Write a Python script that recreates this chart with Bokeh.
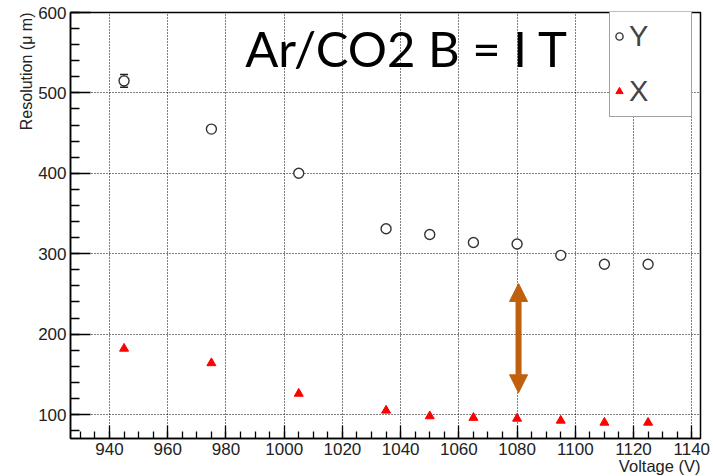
from bokeh.plotting import figure
from bokeh.models import (Range1d, SingleIntervalTicker, Label, Legend, LegendItem,
                          Whisker, ColumnDataSource, Arrow, NormalHead, Title)
from bokeh.embed import file_html
from bokeh.resources import INLINE

# ---- data ----
voltage = [945, 975, 1005, 1035, 1050, 1065, 1080, 1095, 1110, 1125]
res_y = [515, 455, 400, 331, 324, 314, 312, 298, 287, 287]
res_y_err = [8, 3, 3, 3, 3, 3, 3, 3, 3, 3]
res_x = [182, 164, 126, 105, 98, 96, 95, 92.5, 90, 90]
arrow_v = 1080.5
arrow_lo, arrow_hi = 127, 263
title_text = "Ar/CO2 B = I T"
x_label = "Voltage (V)"
y_label = "Resolution (\u03bc m)"

FONT = "Liberation Sans"

p = figure(width=713, height=476, output_backend="svg", toolbar_location=None,
           x_range=Range1d(926.6, 1143), y_range=Range1d(70.2, 600),
           min_border_left=70, min_border_right=13, min_border_top=12, min_border_bottom=38)
p.background_fill_color = "white"
p.border_fill_color = "white"
p.outline_line_color = "black"
p.outline_line_width = 1.5

# axes
p.xaxis.ticker = SingleIntervalTicker(interval=20, num_minor_ticks=4)
p.yaxis.ticker = SingleIntervalTicker(interval=100, num_minor_ticks=5)
for ax in (p.xaxis, p.yaxis):
    ax.axis_line_color = "black"
    ax.axis_line_width = 1.5
    ax.major_tick_line_color = "black"
    ax.minor_tick_line_color = "black"
    ax.major_tick_line_width = 1.3
    ax.minor_tick_line_width = 1.3
    ax.major_tick_out = 0
    ax.minor_tick_out = 0
    ax.major_label_text_font = FONT
    ax.major_label_text_font_size = "17px"
    ax.major_label_text_color = "#222222"
p.yaxis.major_tick_in = 20
p.yaxis.minor_tick_in = 9
p.xaxis.major_tick_in = 13
p.xaxis.minor_tick_in = 7
p.yaxis.major_label_standoff = 4
p.xaxis.major_label_standoff = 4

p.grid.grid_line_color = "black"
p.grid.grid_line_dash = "1 2"
p.grid.grid_line_width = 1

# axis labels as side titles (right-aligned like the reference)
p.add_layout(Title(text=y_label, align="right", text_font=FONT, text_font_size="16px",
                   text_font_style="normal", text_color="#222222", standoff=2), "left")
p.add_layout(Title(text=x_label, align="right", text_font=FONT, text_font_size="16.5px",
                   text_font_style="normal", text_color="#222222", standoff=-6), "below")

# data
src = ColumnDataSource(dict(v=voltage, y=res_y, lo=[a - b for a, b in zip(res_y, res_y_err)],
                            hi=[a + b for a, b in zip(res_y, res_y_err)], x=res_x))
w = Whisker(base="v", lower="lo", upper="hi", source=src, line_color="#222222", line_width=1.3)
w.upper_head.size = 8
w.lower_head.size = 8
w.upper_head.line_color = "#222222"
w.lower_head.line_color = "#222222"
w.upper_head.line_width = 1.5
w.lower_head.line_width = 1.5
p.add_layout(w)

ry = p.scatter("v", "y", source=src, marker="circle", size=10, fill_color="white",
               line_color="#333333", line_width=1.4)
rx = p.scatter("v", "x", source=src, marker="triangle", size=9, fill_color="red",
               line_color="red", line_width=1)

# arrow
p.add_layout(Arrow(x_start=arrow_v, y_start=arrow_lo, x_end=arrow_v, y_end=arrow_hi,
                   line_color="#C0600C", line_width=6,
                   start=NormalHead(size=18, fill_color="#C0600C", line_color="#C0600C"),
                   end=NormalHead(size=18, fill_color="#C0600C", line_color="#C0600C")))

# title text
p.add_layout(Label(x=986.6, y=556, text=title_text, text_font="Lato",
                   text_font_size="49px", text_color="black", text_baseline="alphabetic"))

# legend
legend = Legend(items=[LegendItem(label="Y", renderers=[ry]), LegendItem(label="X", renderers=[rx])],
                location=(539, 321), label_text_font=FONT, label_text_font_size="29px",
                label_height=50, label_width=62, glyph_width=18, glyph_height=18,
                label_standoff=1, padding=0, spacing=5, margin=0,
                border_line_color="#444444", border_line_width=1.5,
                background_fill_color="white", background_fill_alpha=1)
p.add_layout(legend)

open("out.html", "w").write(file_html(p, INLINE))
